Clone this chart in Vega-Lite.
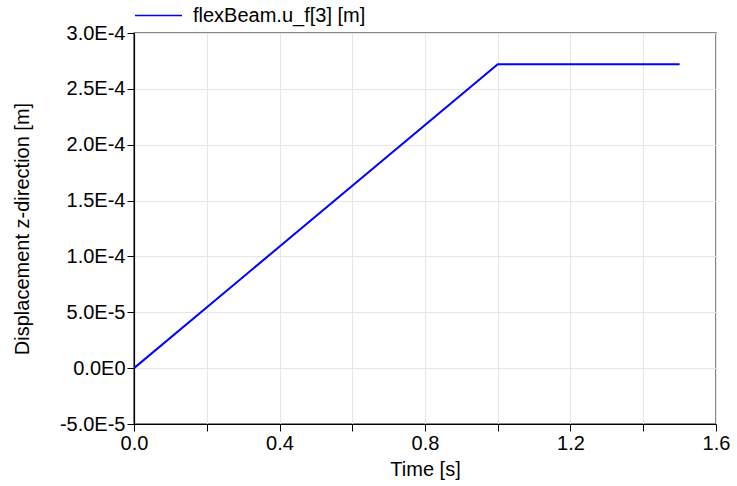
{
  "$schema": "https://vega.github.io/schema/vega-lite/v6.json",
  "width": 582,
  "height": 391,
  "autosize": {"type": "none"},
  "padding": {"left": 134, "top": 33, "right": 21, "bottom": 62},
  "background": "white",
  "config": {
    "font": "Liberation Sans",
    "view": {"stroke": "#606060", "strokeWidth": 1.5},
    "axis": {
      "labelFont": "Liberation Sans",
      "titleFont": "Liberation Sans",
      "labelFontSize": 20,
      "titleFontSize": 20,
      "labelColor": "#000",
      "titleColor": "#000",
      "titleFontWeight": "normal",
      "domainColor": "#000",
      "domainWidth": 1.2,
      "tickColor": "#000",
      "tickSize": 7,
      "gridColor": "#e6e6e6",
      "gridWidth": 1
    }
  },
  "data": {
    "values": [
      {"time": 0.0, "u": 0.0, "series": "flexBeam.u_f[3] [m]"},
      {"time": 1.0, "u": 0.000272, "series": "flexBeam.u_f[3] [m]"},
      {"time": 1.5, "u": 0.000272, "series": "flexBeam.u_f[3] [m]"}
    ]
  },
  "mark": {"type": "line", "strokeWidth": 2, "clip": true},
  "encoding": {
    "x": {
      "field": "time",
      "type": "quantitative",
      "scale": {"domain": [0, 1.6], "nice": false, "zero": false},
      "axis": {
        "title": "Time [s]",
        "values": [0, 0.2, 0.4, 0.6, 0.8, 1.0, 1.2, 1.4, 1.6],
        "labelExpr": "abs(round(datum.value * 10) % 4) == 0 ? format(datum.value, '.1f') : ''",
        "labelPadding": 2,
        "titlePadding": 6,
        "labelFlush": false,
        "labelOverlap": false
      }
    },
    "y": {
      "field": "u",
      "type": "quantitative",
      "scale": {"domain": [-0.00005, 0.0003], "nice": false, "zero": false},
      "axis": {
        "title": "Displacement z-direction [m]",
        "values": [-0.00005, 0, 0.00005, 0.0001, 0.00015, 0.0002, 0.00025, 0.0003],
        "labelExpr": "replace(replace(replace(replace(format(datum.value, '.1e'), 'e', 'E'), '+', ''), '\u2212', '-'), '\u2212', '-')",
        "labelPadding": 2,
        "titlePadding": 27,
        "labelFlush": false,
        "labelOverlap": false
      }
    },
    "color": {
      "field": "series",
      "type": "nominal",
      "scale": {"range": ["#0000ff"]},
      "legend": {
        "title": null,
        "orient": "none",
        "legendX": 0,
        "legendY": -42,
        "symbolType": "stroke",
        "symbolSize": 2209,
        "symbolStrokeWidth": 1.5,
        "labelFontSize": 20,
        "labelFont": "Liberation Sans",
        "labelColor": "#000",
        "labelLimit": 0,
        "labelOffset": 10
      }
    }
  }
}
